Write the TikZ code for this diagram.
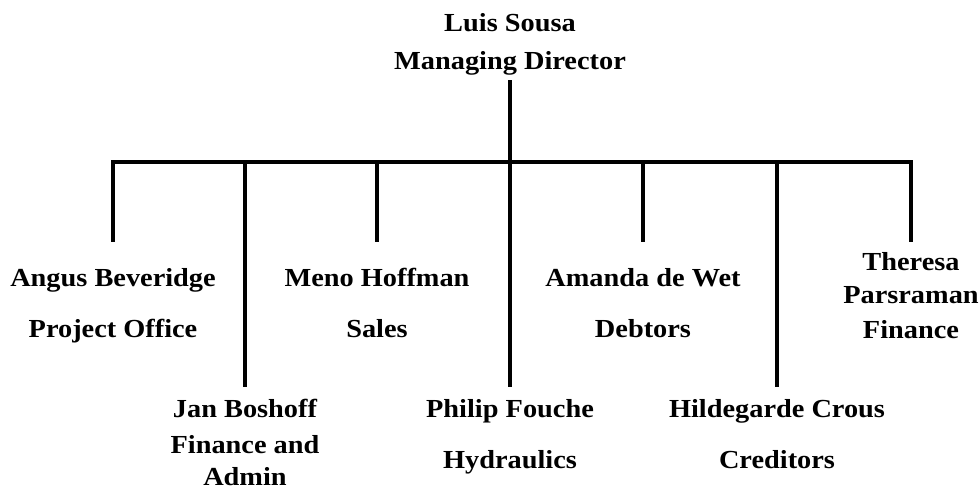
\documentclass[tikz,border=0pt]{standalone}
\usepackage{fontspec}
\setmainfont{Liberation Serif}[FakeStretch=1.09]
\begin{document}
\begin{tikzpicture}[x=1pt, y=-1pt,
        every node/.style={font=\fontsize{26}{30}\selectfont\bfseries, anchor=base,
            inner sep=0pt, text height=18pt, text depth=5pt},
        link/.style={line width=4.5pt}]
        \useasboundingbox (0,0) rectangle (980,489);

        % Top
        \node (Luis) at (510, 32) {Luis Sousa};
        \node (Director) at (510, 70) {Managing Director};

        % Upper row
        \node (Angus) at (113, 286) {Angus Beveridge};
        \node (Office) at (113, 337) {Project Office};
        \node (Meno) at (377, 286) {Meno Hoffman};
        \node (Sales) at (377, 337) {Sales};
        \node (Amanda) at (643, 286) {Amanda de Wet};
        \node (Debtors) at (643, 337) {Debtors};
        \node (Theresa) at (911, 270) {Theresa};
        \node (Parsraman) at (911, 303) {Parsraman};
        \node (Finance) at (911, 338) {Finance};

        % Lower row
        \node (Jan) at (245, 417) {Jan Boshoff};
        \node (FinAdmin) at (245, 453) {Finance and};
        \node (Admin) at (245, 485) {Admin};
        \node (Philip) at (510, 417) {Philip Fouche};
        \node (Hydraulics) at (510, 468) {Hydraulics};
        \node (Hilde) at (777, 417) {Hildegarde Crous};
        \node (Creditors) at (777, 468) {Creditors};

        % Bar
        \coordinate (jA) at (113, 162);
        \coordinate (jJ) at (245, 162);
        \coordinate (jM) at (377, 162);
        \coordinate (jP) at (510, 162);
        \coordinate (jD) at (643, 162);
        \coordinate (jH) at (777, 162);
        \coordinate (jT) at (911, 162);

        % Edges
        \draw[link, shorten <=5pt] (Director.south) -- (jP);
        \draw[link, shorten <=26pt, shorten >=10pt] (Angus.north) -- (jA) -- (jT) -- (Theresa.north);
        \draw[link, shorten >=12pt] (jJ) -- (Jan.north);
        \draw[link, shorten >=26pt] (jM) -- (Meno.north);
        \draw[link, shorten >=12pt] (jP) -- (Philip.north);
        \draw[link, shorten >=26pt] (jD) -- (Amanda.north);
        \draw[link, shorten >=12pt] (jH) -- (Hilde.north);
    \end{tikzpicture}
\end{document}
